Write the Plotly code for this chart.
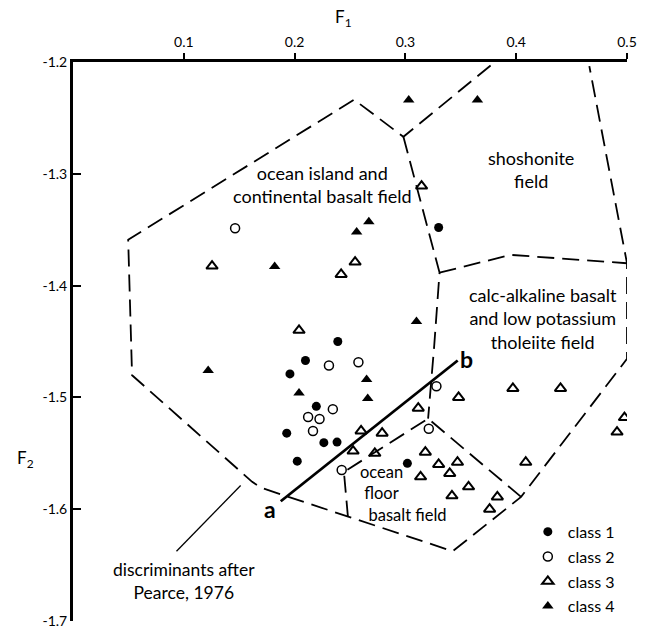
import plotly.graph_objects as go

# ---- data (F1, F2) ----
c1_x = [0.330, 0.239, 0.2098, 0.1958, 0.2196, 0.1929, 0.2264, 0.2383, 0.2024, 0.3018]
c1_y = [-1.348, -1.450, -1.467, -1.479, -1.508, -1.532, -1.5405, -1.540, -1.557, -1.559]

c2_x = [0.1463, 0.231, 0.2576, 0.2345, 0.2122, 0.2225, 0.2166, 0.2425, 0.328, 0.3211]
c2_y = [-1.3487, -1.4714, -1.4685, -1.5105, -1.5176, -1.5193, -1.530, -1.565, -1.490, -1.528]

c3_x = [0.1255, 0.242, 0.204, 0.2546, 0.3146, 0.3116, 0.348, 0.397, 0.440, 0.4977,
        0.491, 0.260, 0.279, 0.2528, 0.2724, 0.318, 0.330, 0.347, 0.340, 0.3137,
        0.4086, 0.357, 0.342, 0.383, 0.376]
c3_y = [-1.3825, -1.390, -1.440, -1.379, -1.311, -1.5096, -1.500, -1.492, -1.492, -1.518,
        -1.531, -1.530, -1.532, -1.548, -1.550, -1.549, -1.560, -1.558, -1.568, -1.571,
        -1.558, -1.580, -1.588, -1.589, -1.600]

c4_x = [0.303, 0.365, 0.267, 0.256, 0.182, 0.122, 0.204, 0.265, 0.266, 0.310]
c4_y = [-1.234, -1.234, -1.343, -1.352, -1.383, -1.476, -1.496, -1.484, -1.501, -1.432]

# ---- field boundaries (dashed) ----
outer_x = [0.3769, 0.2982, 0.2537, 0.0498, 0.0533, 0.1617, 0.1697, 0.3427, 0.4044, 0.500, 0.500, 0.466]
outer_y = [-1.2031, -1.2669, -1.2337, -1.3590, -1.4802, -1.5755, -1.5808, -1.6376, -1.5890, -1.4655, -1.380, -1.2037]

divide_x = [0.2982, 0.3308, 0.3260, 0.3205]
divide_y = [-1.2669, -1.3884, -1.4538, -1.5190]

calc_top_x = [0.3308, 0.395, 0.500]
calc_top_y = [-1.3884, -1.3725, -1.380]

floor_x = [0.4044, 0.3205, 0.2445, 0.2481]
floor_y = [-1.5890, -1.5190, -1.5667, -1.6064]

# ---- discriminant line a-b and leader ----
ab_x = [0.1875, 0.3472]
ab_y = [-1.5929, -1.4670]
leader_x = [0.1513, 0.0934]
leader_y = [-1.5788, -1.6376]

x_ticks = [0.1, 0.2, 0.3, 0.4, 0.5]
y_ticks = [-1.2, -1.3, -1.4, -1.5, -1.6, -1.7]

FONT = "Lato"
dash = "17px,8px"

fig = go.Figure()

def line(x, y, width=1.8, dsh=dash):
    fig.add_trace(go.Scatter(x=x, y=y, mode="lines", showlegend=False, hoverinfo="skip",
                             line=dict(color="black", width=width, dash=dsh)))

line(outer_x, outer_y)
line(divide_x, divide_y)
line(calc_top_x, calc_top_y)
line(floor_x, floor_y)
line(ab_x, ab_y, width=2.8, dsh="solid")
line(leader_x, leader_y, width=1.3, dsh="solid")

fig.add_trace(go.Scatter(x=c1_x, y=c1_y, mode="markers", name="class 1", legendgroup="1",
                         marker=dict(symbol="circle", size=9, color="black")))
fig.add_trace(go.Scatter(x=c2_x, y=c2_y, mode="markers", name="class 2", legendgroup="2",
                         marker=dict(symbol="circle-open", size=9, color="black", line=dict(width=1.5))))
fig.add_trace(go.Scatter(x=c3_x, y=c3_y, mode="markers", name="class 3", legendgroup="3",
                         marker=dict(symbol="triangle-up-open", size=10, color="black", line=dict(width=2))))
fig.add_trace(go.Scatter(x=c4_x, y=c4_y, mode="markers", name="class 4", legendgroup="4",
                         marker=dict(symbol="triangle-up", size=10, color="black")))

def label(x, y, text, size=18, xanchor="center", **kw):
    fig.add_annotation(x=x, y=y, text=text, showarrow=False, xanchor=xanchor, yanchor="middle",
                       font=dict(family=FONT, size=size, color="black"), **kw)

label(0.2251, -1.3099, "ocean island and<br>continental basalt field")
label(0.4130, -1.2958, "shoshonite<br>field")
label(0.4246, -1.4290, "calc-alkaline basalt<br>and low potassium<br>tholeiite field")
label(0.2570, -1.5861, "ocean<br>&nbsp;floor<br>&nbsp;&nbsp;basalt field", size=16.5,
      xanchor="left", align="left")
label(0.1780, -1.5994, "<b>a</b>", size=23)
label(0.3547, -1.4655, "<b>b</b>", size=23)
label(0.1004, -1.6638, "discriminants after<br>Pearce, 1976", size=17.5)

fig.add_annotation(x=0.489, y=1.0786, xref="paper", yref="paper", text="F<sub>1</sub>",
                   xanchor="center", yanchor="middle",
                   showarrow=False, font=dict(family=FONT, size=17, color="black"))
fig.add_annotation(x=-0.0862, y=0.2895, xref="paper", yref="paper", text="F<sub>2</sub>",
                   xanchor="center", yanchor="middle",
                   showarrow=False, font=dict(family=FONT, size=17, color="black"))

fig.update_layout(
    width=646, height=638,
    margin=dict(l=73, r=11, t=62, b=9),
    paper_bgcolor="white", plot_bgcolor="white",
    font=dict(family=FONT, size=14, color="black"),
    showlegend=True,
    legend=dict(x=0.821, y=0.19, xanchor="left", yanchor="top",
                font=dict(family=FONT, size=16), bgcolor="rgba(0,0,0,0)",
                traceorder="grouped", tracegroupgap=1),
    xaxis=dict(range=[0, 0.5], side="top", tickvals=x_ticks, ticktext=[str(v) for v in x_ticks],
               ticks="outside", ticklen=6, tickwidth=2, tickcolor="black",
               showline=True, linewidth=3, linecolor="black", showgrid=False, zeroline=False,
               tickfont=dict(family=FONT, size=14)),
    yaxis=dict(range=[-1.7, -1.2], tickvals=y_ticks, ticktext=[str(v) for v in y_ticks],
               ticks="inside", ticklen=8, tickwidth=2, tickcolor="black",
               showline=True, linewidth=3, linecolor="black", showgrid=False, zeroline=False,
               tickfont=dict(family=FONT, size=14)),
)

fig.write_html("out.html")
